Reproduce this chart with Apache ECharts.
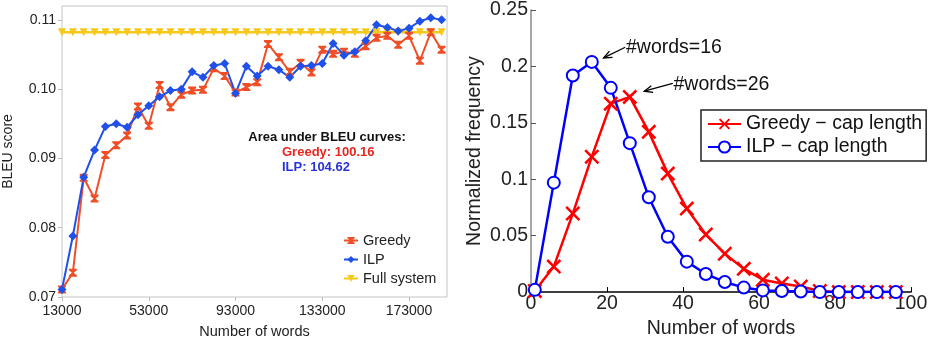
<!DOCTYPE html>
<html>
<head>
<meta charset="utf-8">
<script src="https://cdn.jsdelivr.net/npm/echarts@6/dist/echarts.min.js"></script>
<style>
  html, body { margin: 0; padding: 0; background: #fff; }
  #chart { width: 931px; height: 344px; }
</style>
</head>
<body>
<div id="chart"></div>
<script>
// left panel: BLEU vs number of words
const nWords = [13000, 18000, 23000, 28000, 33000, 38000, 43000, 48000, 53000, 58000,
  63000, 68000, 73000, 78000, 83000, 88000, 93000, 98000, 103000, 108000,
  113000, 118000, 123000, 128000, 133000, 138000, 143000, 148000, 153000, 158000,
  163000, 168000, 173000, 178000, 183000, 188000]
const greedyBleu = [0.0711, 0.0735, 0.0872, 0.0842, 0.0905, 0.0919, 0.0933, 0.0975, 0.0947, 0.1006,
  0.0974, 0.0992, 0.0998, 0.0999, 0.1030, 0.1019, 0.0995, 0.1003, 0.1010, 0.1065,
  0.1046, 0.1025, 0.1038, 0.1024, 0.1057, 0.1051, 0.1054, 0.1051, 0.1062, 0.1074,
  0.1077, 0.1064, 0.1077, 0.1041, 0.1082, 0.1057]
const ilpBleu = [0.0711, 0.0788, 0.0873, 0.0912, 0.0946, 0.0950, 0.0945, 0.0963, 0.0976, 0.0989,
  0.0998, 0.1000, 0.1025, 0.1017, 0.1034, 0.1037, 0.0994, 0.1033, 0.1019, 0.1033,
  0.1028, 0.1017, 0.1033, 0.1034, 0.1037, 0.1066, 0.1049, 0.1054, 0.1070, 0.1093,
  0.1089, 0.1084, 0.1088, 0.1098, 0.1103, 0.1100]
const fullBleu = [0.1082, 0.1082, 0.1082, 0.1082, 0.1082, 0.1082, 0.1082, 0.1082, 0.1082, 0.1082,
  0.1082, 0.1082, 0.1082, 0.1082, 0.1082, 0.1082, 0.1082, 0.1082, 0.1082, 0.1082,
  0.1082, 0.1082, 0.1082, 0.1082, 0.1082, 0.1082, 0.1082, 0.1082, 0.1082, 0.1082,
  0.1082, 0.1082, 0.1082, 0.1082, 0.1082, 0.1082]

// right panel: caption length distribution
const capLen = [1, 6, 11, 16, 21, 26, 31, 36, 41, 46, 51, 56, 61, 66, 71, 76, 81, 86, 91, 96]
const greedyFreq = [0.001, 0.0226, 0.0696, 0.120, 0.167, 0.173, 0.142, 0.105, 0.074, 0.051,
  0.034, 0.0206, 0.011, 0.0076, 0.005, 0.001, 0, 0, 0, 0]
const ilpFreq = [0.002, 0.097, 0.192, 0.204, 0.181, 0.132, 0.084, 0.049, 0.027, 0.016,
  0.009, 0.004, 0.0015, 0.001, 0.0005, 0, 0, 0, 0, 0]

const zip = (xs, ys) => xs.map((x, i) => [x, ys[i]])

const FONT = 'Liberation Sans'
const hourglass = 'path://M0,0 L10,0 L10,2 L6,5 L10,8 L10,10 L0,10 L0,8 L4,5 L0,2 Z'
const cross = 'path://M0,1.2 L1.2,0 L5,3.8 L8.8,0 L10,1.2 L6.2,5 L10,8.8 L8.8,10 L5,6.2 L1.2,10 L0,8.8 L3.8,5 Z'

const chart = echarts.init(document.getElementById('chart'))

const option = {
  animation: false,
  textStyle: { fontFamily: FONT },
  grid: [
    { left: 59, top: 6, width: 388, height: 291, show: true, borderColor: '#c4c4c4', borderWidth: 1, backgroundColor: '#fff' },
    { left: 531, top: 10, width: 380, height: 288 }
  ],
  legend: [
    {
      data: ['Greedy', 'ILP', 'Full system'],
      orient: 'vertical',
      left: 343, top: 233,
      itemWidth: 14, itemHeight: 9, itemGap: 4,
      textStyle: { fontSize: 14.5, color: '#222', fontFamily: FONT },
      padding: 0
    },
    {
      data: ['Greedy \u2212 cap length', 'ILP \u2212 cap length'],
      orient: 'vertical',
      left: 701, top: 110,
      itemWidth: 33, itemHeight: 14, itemGap: 3,
      padding: [4, 4, 4, 6],
      borderColor: '#222', borderWidth: 1.5,
      textStyle: { fontSize: 19.5, color: '#111', fontFamily: FONT }
    }
  ],
  xAxis: [
    {
      gridIndex: 0, type: 'value', min: 13000, max: 190500, interval: 40000,
      name: 'Number of words', nameLocation: 'middle', nameGap: 27,
      nameTextStyle: { fontSize: 14.5, color: '#222' },
      axisLine: { show: false },
      axisTick: { show: true, length: 4, lineStyle: { color: '#bbb' } },
      axisLabel: { fontSize: 14, color: '#222', margin: 7, showMaxLabel: false, formatter: v => String(v) },
      splitLine: { show: false }
    },
    {
      gridIndex: 1, type: 'value', min: 0, max: 100, interval: 20,
      name: 'Number of words', nameLocation: 'middle', nameGap: 24,
      nameTextStyle: { fontSize: 19.5, color: '#222' },
      axisLine: { onZero: false, lineStyle: { color: '#000', width: 1.5 } },
      axisTick: { inside: true, length: 5, lineStyle: { color: '#000' } },
      axisLabel: { fontSize: 19.5, color: '#222', margin: 2 },
      splitLine: { show: false }
    }
  ],
  yAxis: [
    {
      gridIndex: 0, type: 'value', min: 0.07, max: 0.112, interval: 0.01,
      name: 'BLEU score', nameLocation: 'middle', nameGap: 47,
      nameTextStyle: { fontSize: 14, color: '#222' },
      axisLine: { show: false },
      axisTick: { show: true, length: 4, lineStyle: { color: '#bbb' } },
      axisLabel: { fontSize: 14, color: '#222', margin: 6, showMaxLabel: false, formatter: v => v.toFixed(2) },
      splitLine: { show: false }
    },
    {
      gridIndex: 1, type: 'value', min: 0, max: 0.25, interval: 0.05,
      name: 'Normalized frequency', nameLocation: 'middle', nameGap: 46,
      nameTextStyle: { fontSize: 19.5, color: '#222' },
      axisLine: { onZero: false, lineStyle: { color: '#888', width: 1.5 } },
      axisTick: { inside: true, length: 5, lineStyle: { color: '#555' } },
      axisLabel: { fontSize: 19.5, color: '#222', margin: 3, formatter: v => String(+v.toFixed(2)) },
      splitLine: { show: false }
    }
  ],
  series: [
    {
      name: 'Full system', type: 'line', xAxisIndex: 0, yAxisIndex: 0,
      data: zip(nWords, fullBleu),
      symbol: 'triangle', symbolRotate: 180, symbolSize: 8,
      lineStyle: { color: '#f6c81c', width: 2.5 },
      itemStyle: { color: '#f6c81c' }
    },
    {
      name: 'Greedy', type: 'line', xAxisIndex: 0, yAxisIndex: 0,
      data: zip(nWords, greedyBleu),
      symbol: hourglass, symbolSize: [8, 8],
      lineStyle: { color: '#f04e26', width: 2 },
      itemStyle: { color: '#f04e26' }
    },
    {
      name: 'ILP', type: 'line', xAxisIndex: 0, yAxisIndex: 0,
      data: zip(nWords, ilpBleu),
      symbol: 'diamond', symbolSize: 9,
      lineStyle: { color: '#1f50ea', width: 2 },
      itemStyle: { color: '#1f50ea' }
    },
    {
      name: 'Greedy \u2212 cap length', type: 'line', xAxisIndex: 1, yAxisIndex: 1,
      data: zip(capLen, greedyFreq),
      symbol: cross, symbolSize: 15,
      lineStyle: { color: '#ff0000', width: 2.5 },
      itemStyle: { color: '#ff0000' }
    },
    {
      name: 'ILP \u2212 cap length', type: 'line', xAxisIndex: 1, yAxisIndex: 1,
      data: zip(capLen, ilpFreq),
      symbol: 'emptyCircle', symbolSize: 12,
      lineStyle: { color: '#0000ff', width: 2.5 },
      itemStyle: { color: '#0000ff', borderWidth: 2.5, borderColor: '#0000ff' }
    }
  ]
}

chart.setOption(option)

// annotations
const toPx = (x, y) => chart.convertToPixel({ xAxisIndex: 1, yAxisIndex: 1 }, [x, y])
const arrow = (from, to) => {
  const s = toPx(from[0], from[1])
  const e = toPx(to[0], to[1])
  const ang = Math.atan2(s[1] - e[1], s[0] - e[0])
  const len = 9
  const a1 = [e[0] + len * Math.cos(ang + 0.4), e[1] + len * Math.sin(ang + 0.4)]
  const a2 = [e[0] + len * Math.cos(ang - 0.4), e[1] + len * Math.sin(ang - 0.4)]
  return [
    { type: 'polyline', shape: { points: [s, e] }, style: { stroke: '#000', lineWidth: 1.3 } },
    { type: 'polyline', shape: { points: [a1, e, a2] }, style: { stroke: '#000', lineWidth: 1.3, fill: null } }
  ]
}
const note = (x, y, text) => {
  const p = toPx(x, y)
  return { type: 'text', x: p[0], y: p[1], style: { text, fontSize: 19.5, fontFamily: FONT, fill: '#111', verticalAlign: 'middle' } }
}

const boldText = (x, y, text, fill, align) => ({
  type: 'text', x, y,
  style: { text, fontSize: 13, fontWeight: 'bold', fontFamily: FONT, fill, align, verticalAlign: 'middle' }
})

chart.setOption({
  graphic: [
    ...arrow([24.8, 0.217], [19.1, 0.2075]),
    note(25, 0.217, '#words=16'),
    ...arrow([37.3, 0.185], [29.8, 0.178]),
    note(37.5, 0.184, '#words=26'),
    boldText(327, 137, 'Area under BLEU curves:', '#111', 'center'),
    boldText(282, 152, 'Greedy: 100.16', '#e8251e', 'left'),
    boldText(282, 167, 'ILP: 104.62', '#2733d8', 'left')
  ]
})
</script>
</body>
</html>
